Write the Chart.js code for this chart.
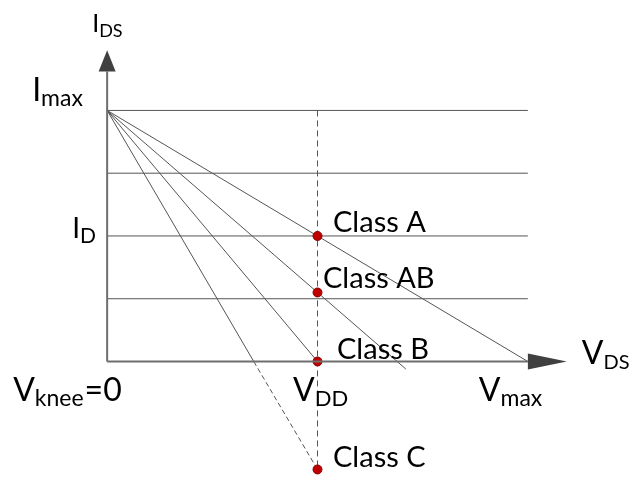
<!DOCTYPE html>
<html>
<head>
<meta charset="utf-8">
<script src="https://cdn.jsdelivr.net/npm/chart.js@4"></script>
<style>
  body { margin: 0; background: #fff; }
  #wrap { width: 629px; height: 477px; }
</style>
</head>
<body>
<div id="wrap"><canvas id="loadLines"></canvas></div>
<script>
// load line data (V normalised to V_DD, I normalised to I_max)
const classNames = ['Class A', 'Class AB', 'Class B', 'Class C'];
const biasCurrent = [0.5, 0.275, 0, -0.43];   // current at V_DD for each class
const lineEndX = [2, 1.42, 1, 1];
const lineEndY = [0, -0.03, 0, -0.43];
const gridLevels = [0.25, 0.5, 0.75, 1];
const iMax = 1;
const vDD = 1;
const vMax = 2;
const cCrossX = 0.697;   // where the class C line crosses I = 0

const lineColor = '#555555';
const axisColor = '#6e6e6e';

function seg(points, extra) {
  return Object.assign({
    data: points.map(p => ({ x: p[0], y: p[1] })),
    showLine: true,
    borderColor: lineColor,
    borderWidth: 1,
    pointRadius: 0,
    fill: false
  }, extra || {});
}

const datasets = [];
// operating points on the V_DD line
datasets.push({
  data: biasCurrent.map(v => ({ x: vDD, y: v })),
  showLine: false,
  pointRadius: 4.5,
  backgroundColor: '#c00000',
  borderColor: '#8a0000',
  borderWidth: 1,
  clip: false
});
// load lines
classNames.forEach(function(name, i) {
  if (name === 'Class C') {
    datasets.push(seg([[0, iMax], [cCrossX, 0]]));
    datasets.push(seg([[cCrossX, 0], [lineEndX[i], lineEndY[i]]], { borderDash: [5, 3] }));
  } else {
    datasets.push(seg([[0, iMax], [vDD, biasCurrent[i]], [lineEndX[i], lineEndY[i]]]));
  }
});
// horizontal levels
gridLevels.forEach(function(g) {
  datasets.push(seg([[0, g], [vMax, g]]));
});
// V_DD dashed line
datasets.push(seg([[vDD, iMax], [vDD, biasCurrent[3]]], { borderDash: [6, 4] }));

// axes with arrows, labels with subscripts
const axesAndLabels = {
  id: 'axesAndLabels',
  afterDatasetsDraw(chart) {
    const ctx = chart.ctx;
    const xs = chart.scales.x, ys = chart.scales.y;
    const x0 = xs.getPixelForValue(0), y0 = ys.getPixelForValue(0);
    const yTop = ys.getPixelForValue(1.155), yTip = ys.getPixelForValue(1.24);
    const xEnd = xs.getPixelForValue(vMax), xTip = xs.getPixelForValue(2.185);

    ctx.save();
    ctx.strokeStyle = axisColor;
    ctx.lineWidth = 2;
    ctx.beginPath();
    ctx.moveTo(x0, y0);
    ctx.lineTo(x0, yTop);
    ctx.moveTo(x0, y0);
    ctx.lineTo(xEnd, y0);
    ctx.stroke();

    ctx.fillStyle = '#404040';
    ctx.beginPath();
    ctx.moveTo(x0, yTip);
    ctx.lineTo(x0 - 8.5, yTop);
    ctx.lineTo(x0 + 8.5, yTop);
    ctx.closePath();
    ctx.fill();
    ctx.beginPath();
    ctx.moveTo(xTip, y0);
    ctx.lineTo(xEnd, y0 - 8);
    ctx.lineTo(xEnd, y0 + 8);
    ctx.closePath();
    ctx.fill();

    const labels = [
      { main: 'I', sub: 'DS', at: [0, iMax], dx: -15, dy: -78, size: 25, subSize: 18 },
      { main: 'I', sub: 'max', at: [0, iMax], dx: -75, dy: -9, size: 32, subSize: 23 },
      { main: 'I', sub: 'D', at: [0, 0.5], dx: -35, dy: 2.5, size: 28, subSize: 21 },
      { main: 'V', sub: 'knee', tail: '=0', at: [0, 0], dx: -94, dy: 39, size: 32, subSize: 23 },
      { main: 'V', sub: 'DD', at: [vDD, 0], dx: -24.5, dy: 39, size: 32, subSize: 22 },
      { main: 'V', sub: 'max', at: [vMax, 0], dx: -49, dy: 39, size: 32, subSize: 23 },
      { main: 'V', sub: 'DS', at: [vMax, 0], dx: 54, dy: 2, size: 32, subSize: 20 },
      { main: classNames[0], at: [vDD, biasCurrent[0]], dx: 15.5, dy: -3.5, size: 29 },
      { main: classNames[1], at: [vDD, biasCurrent[1]], dx: 5.5, dy: -4, size: 29 },
      { main: classNames[2], at: [vDD, biasCurrent[2]], dx: 19.5, dy: -3, size: 29 },
      { main: classNames[3], at: [vDD, biasCurrent[3]], dx: 15.5, dy: -2, size: 29 }
    ];
    ctx.fillStyle = '#000';
    ctx.textBaseline = 'alphabetic';
    ctx.textAlign = 'left';
    labels.forEach(function(l) {
      let x = xs.getPixelForValue(l.at[0]) + l.dx;
      const y = ys.getPixelForValue(l.at[1]) + l.dy;
      ctx.font = l.size + 'px Lato';
      ctx.fillText(l.main, x, y);
      x += ctx.measureText(l.main).width;
      if (l.sub) {
        ctx.font = l.subSize + 'px Lato';
        ctx.fillText(l.sub, x, y + 5);
        x += ctx.measureText(l.sub).width;
      }
      if (l.tail) {
        ctx.font = l.size + 'px Lato';
        ctx.fillText(l.tail, x + 1, y);
      }
    });
    ctx.restore();
  }
};

new Chart(document.getElementById('loadLines'), {
  type: 'scatter',
  data: { datasets: datasets },
  options: {
    responsive: true,
    maintainAspectRatio: false,
    animation: false,
    layout: { autoPadding: false, padding: { left: 23, right: 17, top: 10, bottom: 0 } },
    plugins: { legend: { display: false }, tooltip: { enabled: false } },
    scales: {
      x: { type: 'linear', min: -0.4, max: 2.4, display: false },
      y: { type: 'linear', min: -0.46, max: 1.4, display: false }
    }
  },
  plugins: [axesAndLabels]
});
</script>
</body>
</html>
